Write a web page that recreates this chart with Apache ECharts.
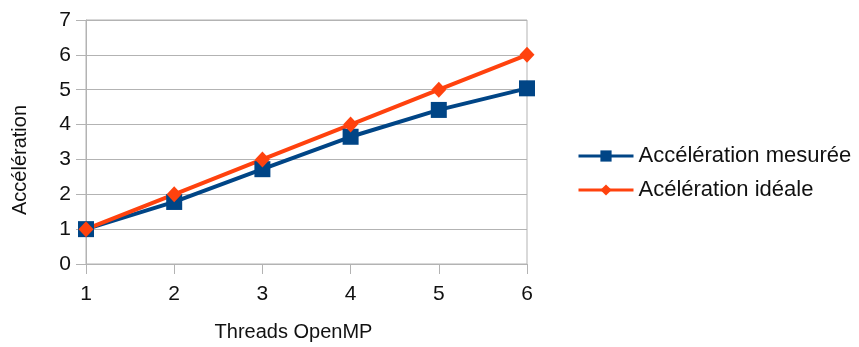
<!DOCTYPE html>
<html>
<head>
<meta charset="utf-8">
<script src="https://cdn.jsdelivr.net/npm/echarts@6/dist/echarts.min.js"></script>
<style>html,body{margin:0;padding:0;background:#fff}#c{width:859px;height:347px}</style>
</head>
<body>
<div id="c"></div>
<script>
var threads = ['1', '2', '3', '4', '5', '6'];
var mesuree = [1, 1.78, 2.72, 3.65, 4.42, 5.04];
var ideale = [1, 2, 3, 4, 5, 6];
var yTicks = [0, 1, 2, 3, 4, 5, 6, 7];

var chart = echarts.init(document.getElementById('c'));
var font = 'Liberation Sans, Arial, sans-serif';
chart.setOption({
  animation: false,
  textStyle: { fontFamily: font, color: '#000' },
  grid: { left: 86, right: 332, top: 20, bottom: 82, show: true, borderColor: '#b3b3b3', borderWidth: 1 },
  legend: {
    orient: 'vertical', left: 577, top: 145, padding: 0, itemWidth: 55, itemHeight: 14, itemGap: 12,
    lineStyle: { width: 3 },
    textStyle: { fontSize: 22, color: '#111', fontFamily: font },
    data: ['Accélération mesurée', 'Acélération idéale']
  },
  xAxis: {
    type: 'category', data: threads, boundaryGap: false,
    name: 'Threads OpenMP', nameLocation: 'middle', nameGap: 58,
    nameTextStyle: { fontSize: 20, color: '#111', padding: [0, 26, 0, 0] },
    axisLine: { lineStyle: { color: '#b3b3b3' } },
    axisTick: { show: true, length: 10, lineStyle: { color: '#b3b3b3' } },
    axisLabel: { fontSize: 21, color: '#111', margin: 20 },
    splitLine: { show: false }
  },
  yAxis: {
    type: 'value', min: yTicks[0], max: yTicks[yTicks.length - 1], interval: 1,
    name: 'Accélération', nameLocation: 'middle', nameGap: 56, nameRotate: 90,
    nameTextStyle: { fontSize: 20, color: '#111', padding: [0, 36, 0, 0] },
    axisLine: { show: true, lineStyle: { color: '#b3b3b3' } },
    axisTick: { show: true, length: 10, lineStyle: { color: '#b3b3b3' } },
    axisLabel: { fontSize: 21, color: '#111', margin: 15 },
    splitLine: { lineStyle: { color: '#b3b3b3' } }
  },
  series: [
    {
      name: 'Accélération mesurée', type: 'line', data: mesuree,
      symbol: 'rect', symbolSize: 16, color: '#004586',
      lineStyle: { width: 4, color: '#004586' }, itemStyle: { color: '#004586' }
    },
    {
      name: 'Acélération idéale', type: 'line', data: ideale,
      symbol: 'diamond', symbolSize: [15, 16], color: '#ff420e',
      lineStyle: { width: 4, color: '#ff420e' }, itemStyle: { color: '#ff420e' }
    }
  ]
});
</script>
</body>
</html>
